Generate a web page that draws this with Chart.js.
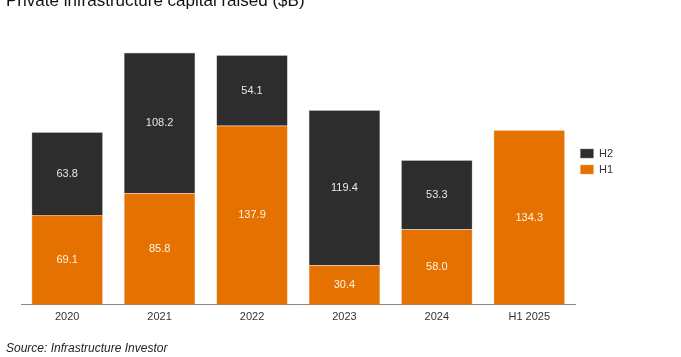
<!DOCTYPE html>
<html><head><meta charset="utf-8">
<script src="https://cdn.jsdelivr.net/npm/chart.js@4"></script>
<style>html,body{margin:0;padding:0;background:#fff}#wrap{width:681px;height:357px;position:relative}</style>
</head><body><div id="wrap"><canvas id="c" width="681" height="357"></canvas></div>
<script>
const categories = ["2020","2021","2022","2023","2024","H1 2025"];
const h1Values = [69.1, 85.8, 137.9, 30.4, 58.0, 134.3];
const h2Values = [63.8, 108.2, 54.1, 119.4, 53.3, null];
const titleText = "Private infrastructure capital raised ($B)";
const sourceText = "Source: Infrastructure Investor";

const FONT = "'Liberation Sans', Arial, sans-serif";

const extras = {
  id: 'extras',
  afterLayout(chart) {
    const lg = chart.legend;
    if (lg) { lg.top -= 13; lg.bottom -= 13; }
  },
  afterDatasetsDraw(chart) {
    const ctx = chart.ctx;
    ctx.save();
    ctx.textAlign = 'center';
    ctx.textBaseline = 'middle';
    ctx.font = "11px " + FONT;
    chart.data.datasets.forEach((ds, di) => {
      const meta = chart.getDatasetMeta(di);
      meta.data.forEach((bar, i) => {
        const v = ds.data[i];
        if (v == null) return;
        const cy = (bar.y + bar.base) / 2;
        ctx.fillStyle = di === 0 ? '#fff3e6' : '#e6e6e6';
        ctx.fillText(v.toFixed(1), bar.x, cy);
      });
    });
    ctx.restore();
  },
  afterDraw(chart) {
    const ctx = chart.ctx;
    ctx.save();
    ctx.fillStyle = '#111';
    ctx.textAlign = 'left';
    ctx.textBaseline = 'middle';
    ctx.font = "17px " + FONT;
    ctx.fillText(titleText, 6, 1);
    ctx.font = "italic 12px " + FONT;
    ctx.fillStyle = '#222';
    ctx.fillText(sourceText, 6, 349);
    ctx.restore();
  }
};

new Chart(document.getElementById('c'), {
  type: 'bar',
  data: {
    labels: categories,
    datasets: [
      { label: 'H1', data: h1Values, backgroundColor: '#e57200', borderColor: '#f0a060', borderWidth: 0.5, barPercentage: 0.77, categoryPercentage: 1.0 },
      { label: 'H2', data: h2Values, backgroundColor: '#2d2d2d', borderColor: '#777', borderWidth: 0.5, barPercentage: 0.77, categoryPercentage: 1.0 }
    ]
  },
  options: {
    responsive: false,
    animation: false,
    layout: { padding: { top: 19, left: 21, right: 58, bottom: 27 } },
    scales: {
      x: {
        stacked: true,
        grid: { display: false, drawTicks: false },
        border: { display: true, color: '#888', width: 1 },
        ticks: { color: '#333', font: { size: 11, family: FONT }, padding: 6 }
      },
      y: {
        stacked: true, display: false, min: 0, max: 220
      }
    },
    plugins: {
      legend: {
        position: 'right',
        reverse: true,
        labels: { boxWidth: 13, boxHeight: 9, color: '#333', font: { size: 11, family: FONT }, padding: 5 }
      },
      tooltip: { enabled: false },
      title: { display: false }
    }
  },
  plugins: [extras]
});
</script></body></html>
